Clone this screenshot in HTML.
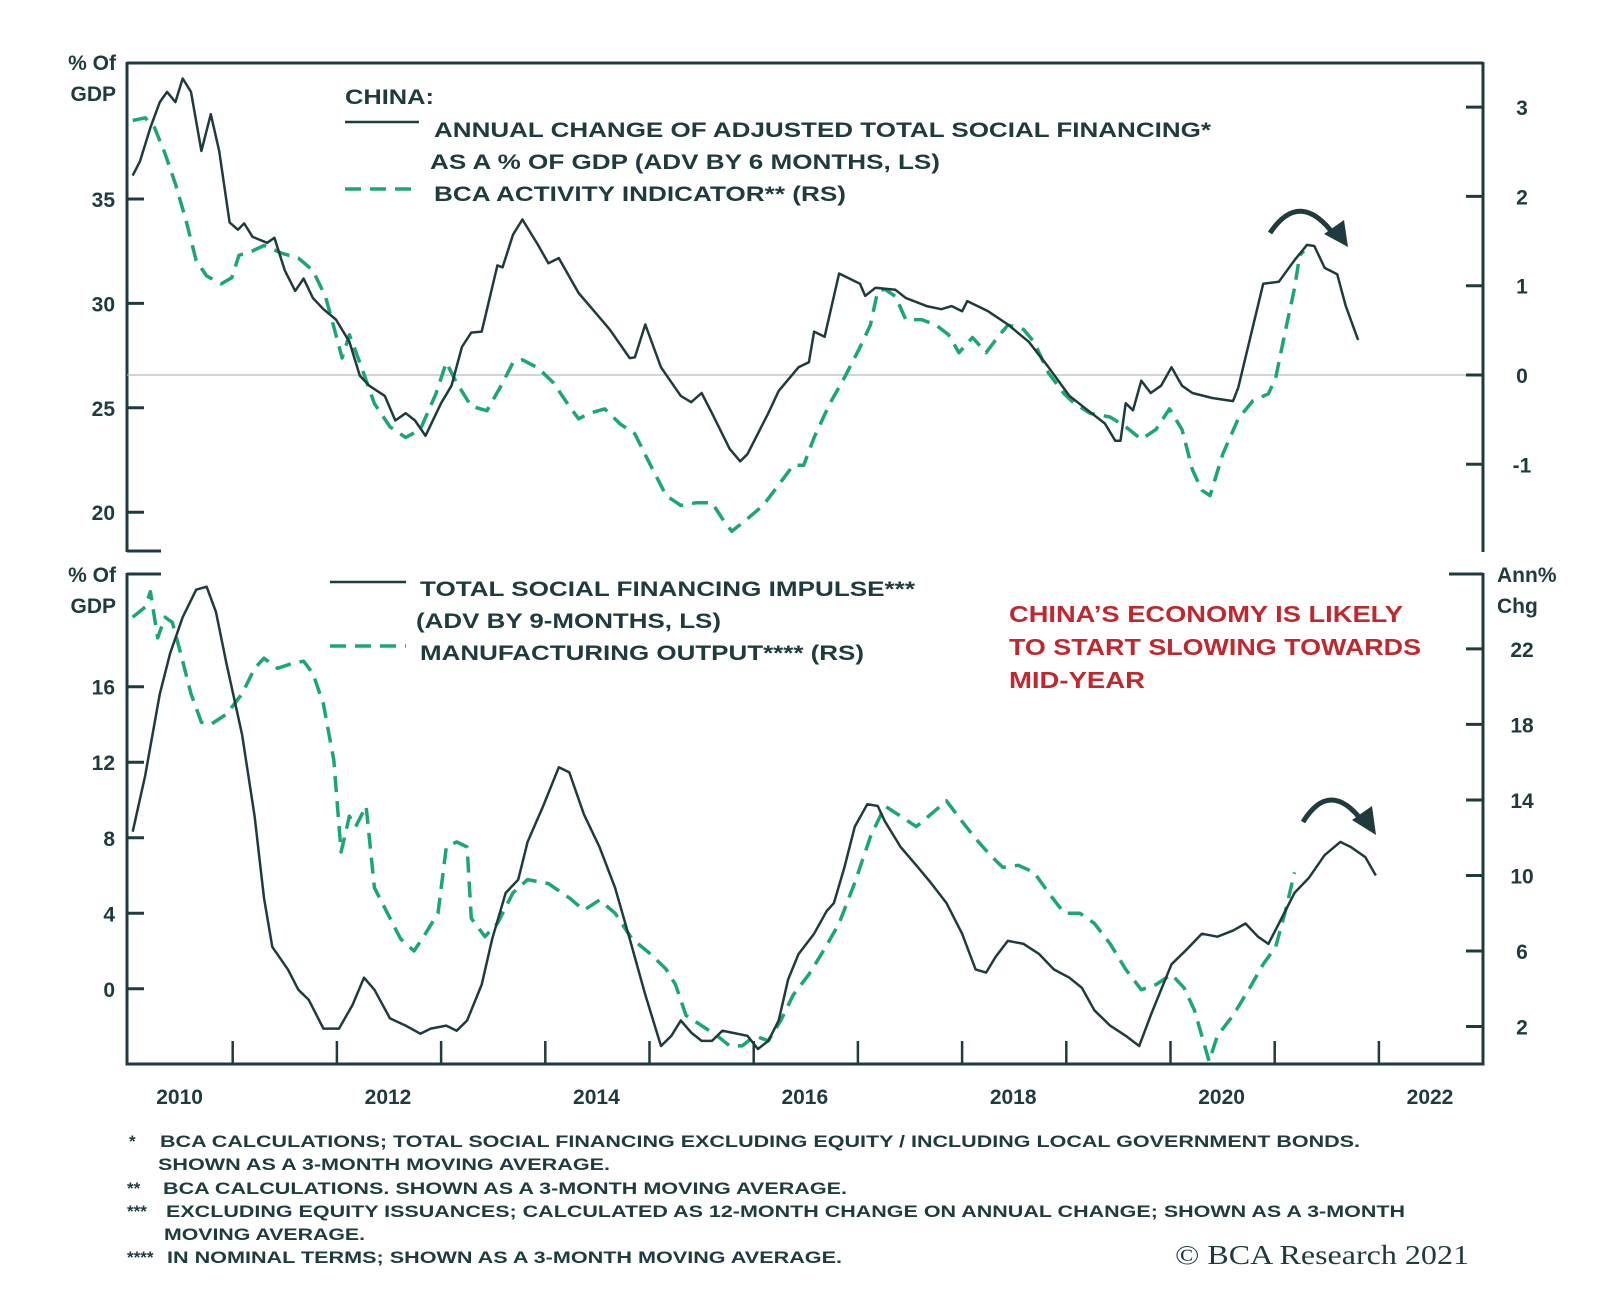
<!DOCTYPE html>
<html><head><meta charset="utf-8">
<style>
html,body{margin:0;padding:0;background:#fff;}
svg{display:block;}
text{font-family:"Liberation Sans",Arial,sans-serif;font-weight:bold;fill:#1f3b3d;}
</style></head>
<body>
<svg id="chart" width="1600" height="1298" viewBox="0 0 1600 1298" xmlns="http://www.w3.org/2000/svg">
<g id="axes"></g>
<g id="series"></g>
<g id="labels">
  <text x="116" y="70" font-size="21" text-anchor="end">% Of</text>
  <text x="116" y="101" font-size="21" text-anchor="end">GDP</text>
  <text x="116" y="582" font-size="21" text-anchor="end">% Of</text>
  <text x="116" y="613" font-size="21" text-anchor="end">GDP</text>
  <text x="1497" y="582" font-size="21">Ann%</text>
  <text x="1497" y="613" font-size="21">Chg</text>

  <text x="345" y="104" font-size="21" textLength="89" lengthAdjust="spacingAndGlyphs">CHINA:</text>
  <line x1="345" y1="122" x2="419" y2="122" stroke="#1f3b3d" stroke-width="2.5"/>
  <text x="434" y="137" font-size="21" textLength="777" lengthAdjust="spacingAndGlyphs">ANNUAL CHANGE OF ADJUSTED TOTAL SOCIAL FINANCING*</text>
  <text x="430" y="169" font-size="21" textLength="510" lengthAdjust="spacingAndGlyphs">AS A % OF GDP (ADV BY 6 MONTHS, LS)</text>
  <line x1="345" y1="189" x2="419" y2="189" stroke="#1aa676" stroke-width="3.5" stroke-dasharray="16,9"/>
  <text x="434" y="201" font-size="21" textLength="412" lengthAdjust="spacingAndGlyphs">BCA ACTIVITY INDICATOR** (RS)</text>

  <line x1="330" y1="582" x2="406" y2="582" stroke="#1f3b3d" stroke-width="2.5"/>
  <text x="420" y="596" font-size="21" textLength="495" lengthAdjust="spacingAndGlyphs">TOTAL SOCIAL FINANCING IMPULSE***</text>
  <text x="416" y="628" font-size="21" textLength="305" lengthAdjust="spacingAndGlyphs">(ADV BY 9-MONTHS, LS)</text>
  <line x1="330" y1="646" x2="406" y2="646" stroke="#1aa676" stroke-width="3.5" stroke-dasharray="16,9"/>
  <text x="420" y="660" font-size="21" textLength="444" lengthAdjust="spacingAndGlyphs">MANUFACTURING OUTPUT**** (RS)</text>

  <g>
  <text x="1009" y="622" font-size="23" textLength="394" lengthAdjust="spacingAndGlyphs" style="fill:#c1272d">CHINA’S ECONOMY IS LIKELY</text>
  <text x="1009" y="655" font-size="23" textLength="412" lengthAdjust="spacingAndGlyphs" style="fill:#c1272d">TO START SLOWING TOWARDS</text>
  <text x="1009" y="688" font-size="23" textLength="136" lengthAdjust="spacingAndGlyphs" style="fill:#c1272d">MID-YEAR</text>
  </g>

  <g font-size="17">
  <text x="129" y="1147" font-size="17">*</text>
  <text x="160" y="1147" font-size="17" textLength="1200" lengthAdjust="spacingAndGlyphs">BCA CALCULATIONS; TOTAL SOCIAL FINANCING EXCLUDING EQUITY / INCLUDING LOCAL GOVERNMENT BONDS.</text>
  <text x="158" y="1170" font-size="17" textLength="452" lengthAdjust="spacingAndGlyphs">SHOWN AS A 3-MONTH MOVING AVERAGE.</text>
  <text x="127" y="1194" font-size="17">**</text>
  <text x="163" y="1194" font-size="17" textLength="684" lengthAdjust="spacingAndGlyphs">BCA CALCULATIONS. SHOWN AS A 3-MONTH MOVING AVERAGE.</text>
  <text x="127" y="1217" font-size="17">***</text>
  <text x="166" y="1217" font-size="17" textLength="1239" lengthAdjust="spacingAndGlyphs">EXCLUDING EQUITY ISSUANCES; CALCULATED AS 12-MONTH CHANGE ON ANNUAL CHANGE; SHOWN AS A 3-MONTH</text>
  <text x="164" y="1240" font-size="17" textLength="201" lengthAdjust="spacingAndGlyphs">MOVING AVERAGE.</text>
  <text x="127" y="1263" font-size="17">****</text>
  <text x="167" y="1263" font-size="17" textLength="675" lengthAdjust="spacingAndGlyphs">IN NOMINAL TERMS; SHOWN AS A 3-MONTH MOVING AVERAGE.</text>
  </g>
  <text x="1175" y="1264" font-size="27" textLength="294" lengthAdjust="spacingAndGlyphs" style="font-family:'Liberation Serif',serif;font-weight:normal">© BCA Research 2021</text>
</g>
<g>
  <path d="M1270,233 Q1300,188 1335,236" fill="none" stroke="#1f3b3d" stroke-width="5"/>
  <polygon points="1324,234 1348,247 1344,220" fill="#1f3b3d"/>
  <path d="M1303,822 Q1330,778 1363,822" fill="none" stroke="#1f3b3d" stroke-width="5"/>
  <polygon points="1352,820 1376,835 1372,806" fill="#1f3b3d"/>
</g>
</svg>
<script>
const topSolidDates=[2009.54,2009.61,2009.71,2009.80,2009.87,2009.95,2010.02,2010.10,2010.20,2010.29,2010.37,2010.47,2010.55,2010.61,2010.69,2010.83,2010.90,2011.00,2011.10,2011.18,2011.27,2011.37,2011.49,2011.62,2011.72,2011.81,2011.96,2012.06,2012.16,2012.25,2012.35,2012.50,2012.60,2012.70,2012.79,2012.89,2013.04,2013.09,2013.19,2013.28,2013.43,2013.53,2013.63,2013.82,2013.97,2014.12,2014.31,2014.36,2014.46,2014.61,2014.80,2014.90,2015.00,2015.10,2015.27,2015.37,2015.44,2015.64,2015.74,2015.93,2016.03,2016.08,2016.18,2016.32,2016.52,2016.57,2016.67,2016.86,2016.96,2017.16,2017.30,2017.40,2017.50,2017.55,2017.75,2017.94,2018.14,2018.33,2018.53,2018.68,2018.87,2018.97,2019.02,2019.07,2019.14,2019.22,2019.31,2019.41,2019.51,2019.61,2019.71,2019.90,2020.10,2020.15,2020.39,2020.54,2020.69,2020.81,2020.88,2020.98,2021.10,2021.18,2021.30];
const topSolidValues=[36.12,36.81,38.42,39.64,40.13,39.64,40.77,40.13,37.30,39.06,37.30,33.88,33.53,33.83,33.19,32.90,33.14,31.58,30.60,31.19,30.26,29.72,29.23,28.16,26.54,26.06,25.57,24.39,24.74,24.39,23.66,25.22,26.06,27.91,28.60,28.65,31.82,31.73,33.29,34.02,32.80,31.92,32.17,30.50,29.62,28.74,27.38,27.42,28.99,26.94,25.57,25.27,25.71,24.74,23.03,22.44,22.78,24.74,25.81,26.94,27.18,28.65,28.40,31.43,30.94,30.36,30.75,30.65,30.26,29.87,29.72,29.87,29.62,30.11,29.62,28.99,28.16,26.94,25.57,24.98,24.25,23.42,23.42,25.22,24.88,26.30,25.71,26.06,26.94,26.06,25.71,25.47,25.32,25.96,30.94,31.04,32.07,32.80,32.75,31.70,31.40,29.90,28.25];
const topDashDates=[2009.54,2009.66,2009.75,2009.85,2009.95,2010.05,2010.15,2010.25,2010.39,2010.49,2010.56,2010.69,2010.80,2010.98,2011.13,2011.27,2011.39,2011.47,2011.55,2011.62,2011.72,2011.86,2012.01,2012.16,2012.30,2012.45,2012.55,2012.65,2012.79,2012.94,2013.09,2013.19,2013.28,2013.43,2013.58,2013.73,2013.82,2013.92,2014.07,2014.22,2014.36,2014.51,2014.66,2014.80,2014.95,2015.10,2015.20,2015.29,2015.44,2015.59,2015.74,2015.88,2015.98,2016.08,2016.23,2016.37,2016.52,2016.62,2016.69,2016.76,2016.86,2016.96,2017.11,2017.25,2017.37,2017.47,2017.60,2017.73,2017.84,2017.94,2018.09,2018.19,2018.33,2018.48,2018.58,2018.73,2018.92,2019.07,2019.22,2019.36,2019.49,2019.61,2019.71,2019.80,2019.88,2020.00,2020.15,2020.29,2020.44,2020.51,2020.61,2020.69,2020.74,2020.78];
const topDashValues=[2.85,2.88,2.77,2.48,2.14,1.74,1.28,1.11,1.02,1.09,1.34,1.39,1.45,1.36,1.31,1.17,0.88,0.54,0.19,0.45,0.14,-0.32,-0.58,-0.70,-0.61,-0.21,0.14,-0.09,-0.35,-0.40,-0.09,0.14,0.17,0.08,-0.09,-0.35,-0.49,-0.43,-0.38,-0.55,-0.66,-1.01,-1.35,-1.46,-1.43,-1.43,-1.61,-1.75,-1.61,-1.46,-1.23,-1.01,-1.01,-0.70,-0.32,-0.03,0.31,0.56,0.94,0.96,0.88,0.62,0.62,0.56,0.45,0.25,0.42,0.25,0.42,0.56,0.51,0.37,0.02,-0.21,-0.32,-0.43,-0.47,-0.58,-0.72,-0.61,-0.38,-0.61,-1.06,-1.29,-1.35,-0.89,-0.49,-0.29,-0.21,-0.03,0.54,0.97,1.34,1.39];
const botSolidDates=[2009.54,2009.66,2009.80,2009.90,2010.02,2010.15,2010.25,2010.34,2010.44,2010.59,2010.71,2010.80,2010.88,2011.03,2011.13,2011.23,2011.37,2011.52,2011.65,2011.76,2011.86,2012.01,2012.16,2012.30,2012.40,2012.55,2012.65,2012.75,2012.89,2012.99,2013.12,2013.24,2013.33,2013.48,2013.63,2013.73,2013.87,2014.02,2014.17,2014.31,2014.46,2014.61,2014.71,2014.80,2014.90,2015.00,2015.10,2015.20,2015.29,2015.44,2015.54,2015.64,2015.74,2015.83,2015.93,2016.08,2016.20,2016.27,2016.37,2016.47,2016.59,2016.69,2016.76,2016.91,2017.06,2017.20,2017.35,2017.50,2017.63,2017.73,2017.82,2017.94,2018.09,2018.24,2018.38,2018.53,2018.65,2018.77,2018.92,2019.07,2019.20,2019.31,2019.41,2019.51,2019.66,2019.80,2019.95,2020.10,2020.22,2020.34,2020.44,2020.54,2020.69,2020.83,2020.98,2021.13,2021.23,2021.37,2021.47];
const botSolidValues=[8.32,11.30,15.62,17.78,19.68,21.14,21.30,19.95,17.24,13.46,9.14,4.81,2.22,1.03,-0.05,-0.59,-2.11,-2.11,-0.86,0.59,-0.05,-1.57,-1.95,-2.38,-2.11,-1.95,-2.22,-1.68,0.22,2.65,5.08,5.78,7.78,9.68,11.73,11.46,9.24,7.51,5.35,2.65,-0.32,-3.03,-2.49,-1.68,-2.32,-2.76,-2.76,-2.22,-2.32,-2.49,-3.19,-2.76,-1.68,0.49,1.84,2.92,4.11,4.54,6.43,8.59,9.78,9.68,8.86,7.51,6.54,5.62,4.54,2.92,1.03,0.86,1.68,2.54,2.38,1.84,1.03,0.59,0.05,-1.14,-1.95,-2.49,-3.03,-1.41,-0.05,1.30,2.11,2.92,2.76,3.08,3.46,2.76,2.38,3.46,5.08,5.89,7.08,7.78,7.51,6.97,6.00];
const botDashDates=[2009.54,2009.66,2009.71,2009.78,2009.85,2009.92,2010.00,2010.10,2010.20,2010.29,2010.44,2010.59,2010.71,2010.80,2010.93,2011.08,2011.18,2011.27,2011.37,2011.47,2011.54,2011.62,2011.68,2011.78,2011.86,2011.96,2012.11,2012.24,2012.35,2012.47,2012.55,2012.65,2012.75,2012.79,2012.92,2013.04,2013.19,2013.33,2013.53,2013.73,2013.87,2014.02,2014.17,2014.33,2014.51,2014.66,2014.75,2014.85,2015.00,2015.15,2015.27,2015.39,2015.51,2015.64,2015.76,2015.88,2016.03,2016.18,2016.32,2016.47,2016.62,2016.76,2016.91,2017.06,2017.20,2017.35,2017.50,2017.63,2017.77,2017.89,2018.04,2018.19,2018.33,2018.48,2018.63,2018.77,2018.92,2019.07,2019.22,2019.36,2019.51,2019.63,2019.73,2019.80,2019.87,2019.95,2020.10,2020.25,2020.39,2020.51,2020.61,2020.69];
const botDashValues=[23.68,24.22,25.03,22.59,23.68,23.41,21.78,19.62,18.11,18.00,18.54,19.62,20.97,21.51,20.97,21.24,21.35,20.70,19.08,16.11,11.24,13.14,12.59,13.68,9.35,8.27,6.65,6.00,6.92,8.00,11.51,11.78,11.51,7.73,6.76,7.46,9.08,9.78,9.57,8.81,8.16,8.70,8.00,6.65,5.84,5.03,4.22,2.59,2.05,1.51,0.97,0.97,1.51,1.24,2.32,3.68,4.76,6.11,7.46,9.62,12.05,13.68,13.14,12.59,13.24,13.95,12.86,11.95,11.08,10.43,10.54,10.16,9.08,8.00,8.00,7.46,6.38,5.03,3.95,4.22,4.76,4.05,2.86,1.51,0.16,1.51,2.59,3.95,5.30,6.22,8.27,10.16];
const topLeftTicks=[35,30,25,20];
const topRightTicks=[3,2,1,0,-1];
const botLeftTicks=[16,12,8,4,0];
const botRightTicks=[22,18,14,10,6,2];
const yearLabels=[2010,2012,2014,2016,2018,2020,2022];
const yearTicks=[2010.5,2011.5,2012.5,2013.5,2014.5,2015.5,2016.5,2017.5,2018.5,2019.5,2020.5,2021.5];

const X=y=>232.7+(y-2010.5)*104.2;
const yTL=v=>199-(v-35)*20.88;
const yTR=v=>375-v*89.3;
const yBL=v=>988.8-v*18.88;
const yBR=v=>1026.5-(v-2)*18.88;
const NS='http://www.w3.org/2000/svg';
const DARK='#1f3b3d', GREEN='#1aa676';
const axes=document.getElementById('axes');
const series=document.getElementById('series');
function mk(tag,attrs,parent){const e=document.createElementNS(NS,tag);for(const k in attrs)e.setAttribute(k,attrs[k]);parent.appendChild(e);return e;}

let e;
e=mk('line',{x1:127,y1:63,x2:1483,y2:63,stroke:DARK,'stroke-width':3},axes);


e=mk('line',{x1:127,y1:62,x2:127,y2:552,stroke:DARK,'stroke-width':3},axes);


e=mk('line',{x1:1483,y1:62,x2:1483,y2:552,stroke:DARK,'stroke-width':3},axes);


e=mk('line',{x1:127,y1:375,x2:1483,y2:375,stroke:'#bbbbbb','stroke-width':1.2},axes);


e=mk('line',{x1:127,y1:573,x2:127,y2:1065,stroke:DARK,'stroke-width':3},axes);


e=mk('line',{x1:1483,y1:573,x2:1483,y2:1065,stroke:DARK,'stroke-width':3},axes);


e=mk('line',{x1:127,y1:574,x2:161,y2:574,stroke:DARK,'stroke-width':3},axes);


e=mk('line',{x1:1449,y1:574,x2:1483,y2:574,stroke:DARK,'stroke-width':3},axes);


e=mk('line',{x1:127,y1:551,x2:161,y2:551,stroke:DARK,'stroke-width':3},axes);


e=mk('line',{x1:125.5,y1:1064,x2:1484.5,y2:1064,stroke:DARK,'stroke-width':3},axes);



function tickL(v,yf,name){
  const y=yf(v);
  const t=mk('line',{x1:127,y1:y,x2:144,y2:y,stroke:DARK,'stroke-width':3},axes);
  
  
  const l=mk('text',{x:115,y:y+8,'font-size':21,'text-anchor':'end'},axes);
  l.textContent=v;
  
  
}
function tickR(v,yf,name){
  const y=yf(v);
  const t=mk('line',{x1:1466,y1:y,x2:1483,y2:y,stroke:DARK,'stroke-width':3},axes);
  
  
  const l=mk('text',{x:1522,y:y+8,'font-size':21,'text-anchor':'middle'},axes);
  l.textContent=v;
  
  
}
topLeftTicks.forEach(v=>tickL(v,yTL,'top-left-axis'));
topRightTicks.forEach(v=>tickR(v,yTR,'top-right-axis'));
botLeftTicks.forEach(v=>tickL(v,yBL,'bottom-left-axis'));
botRightTicks.forEach(v=>tickR(v,yBR,'bottom-right-axis'));
yearTicks.forEach(v=>{
  const t=mk('line',{x1:X(v),y1:1064,x2:X(v),y2:1041,stroke:DARK,'stroke-width':2.5},axes);
  
  
});
yearLabels.forEach(v=>{
  const l=mk('text',{x:X(v)-1,y:1104,'font-size':21,'text-anchor':'middle'},axes);
  l.textContent=v;
  
  
});

function line(dates,vals,yf,color,w,dash,name){
  const d=dates.map((t,i)=>(i?'L':'M')+X(t).toFixed(1)+','+yf(vals[i]).toFixed(1)).join(' ');
  const a={d:d,fill:'none',stroke:color,'stroke-width':w,'stroke-linejoin':'round'};
  if(dash)a['stroke-dasharray']=dash;
  const p=mk('path',a,series);
  
  
}
line(topDashDates,topDashValues,yTR,GREEN,3.5,'16,9','bca-activity-indicator-line');
line(topSolidDates,topSolidValues,yTL,DARK,2.5,null,'tsf-annual-change-line');
line(botDashDates,botDashValues,yBR,GREEN,3.5,'16,9','manufacturing-output-line');
line(botSolidDates,botSolidValues,yBL,DARK,2.5,null,'tsf-impulse-line');
</script>
</body></html>
